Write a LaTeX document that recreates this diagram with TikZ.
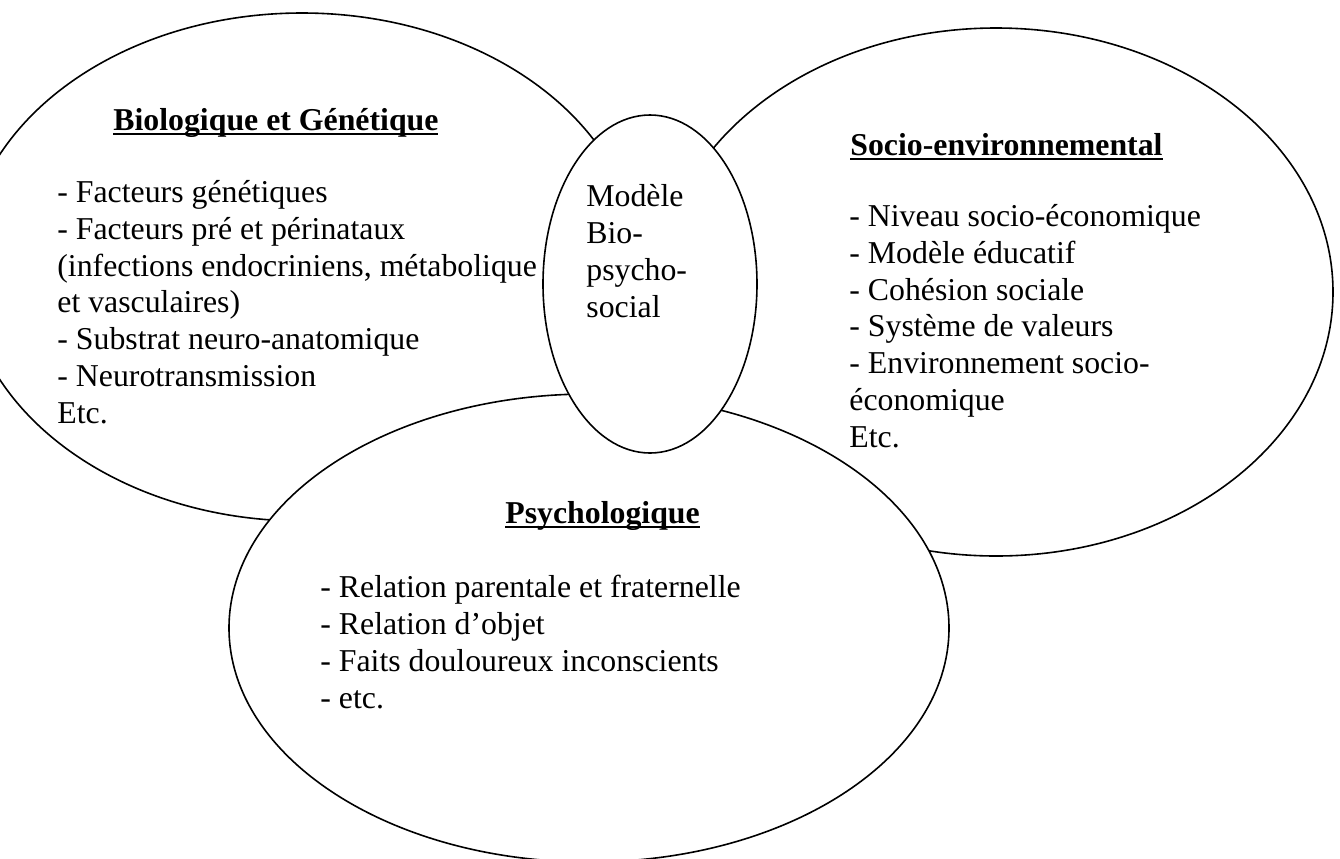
\documentclass[tikz,border=0pt]{standalone}
\usepackage{fontspec}
\setmainfont{Liberation Serif}

\newcommand{\souligne}[1]{\setbox0\hbox{#1}\rlap{\rule[-2.4pt]{\wd0}{0.8pt}}\box0}

\begin{document}
\begin{tikzpicture}[x=0.5pt,y=-0.5pt,
	bulle/.style={draw,fill=white,line width=0.8pt},
	texte/.style={anchor=base west,inner sep=0pt,align=left,font=\fontsize{15.9pt}{18.35pt}\selectfont},
	titre/.style={texte,font=\fontsize{15.9pt}{18.35pt}\selectfont\bfseries}]

	\useasboundingbox (0,0) rectangle (1340,858);
	\clip (0,0) rectangle (1340,858);

	% Biologique et Genetique
	\path[bulle] (302,267) ellipse [x radius=337, y radius=254];

	% Socio-environnemental
	\path[bulle] (996,292) ellipse [x radius=337, y radius=264];

	% Psychologique
	\path[bulle] (589,628) ellipse [x radius=360, y radius=234];

	% Modele bio-psycho-social
	\path[bulle] (650,284) ellipse [x radius=107, y radius=169];

	% titles
	\node[titre] (titrebio) at (113,130) {\souligne{Biologique et Génétique}};
	\node[titre] (titresocio) at (850,155) {\souligne{Socio-environnemental}};
	\node[titre] (titrepsy) at (505,523) {\souligne{Psychologique}};

	% lists (placed by the baseline of their last line)
	\node[texte] (listebio) at (57,423) {- Facteurs génétiques\\- Facteurs pré et périnataux\\(infections endocriniens, métabolique\\et vasculaires)\\- Substrat neuro-anatomique\\- Neurotransmission\\Etc.};
	\node[texte] (modele) at (586,317) {Modèle\\Bio-\\psycho-\\social};
	\node[texte] (listesocio) at (849,447) {- Niveau socio-économique\\- Modèle éducatif\\- Cohésion sociale\\- Système de valeurs\\- Environnement socio-\\économique\\Etc.};
	\node[texte] (listepsy) at (320,708) {- Relation parentale et fraternelle\\- Relation d'objet\\- Faits douloureux inconscients\\- etc.};

\end{tikzpicture}
\end{document}
